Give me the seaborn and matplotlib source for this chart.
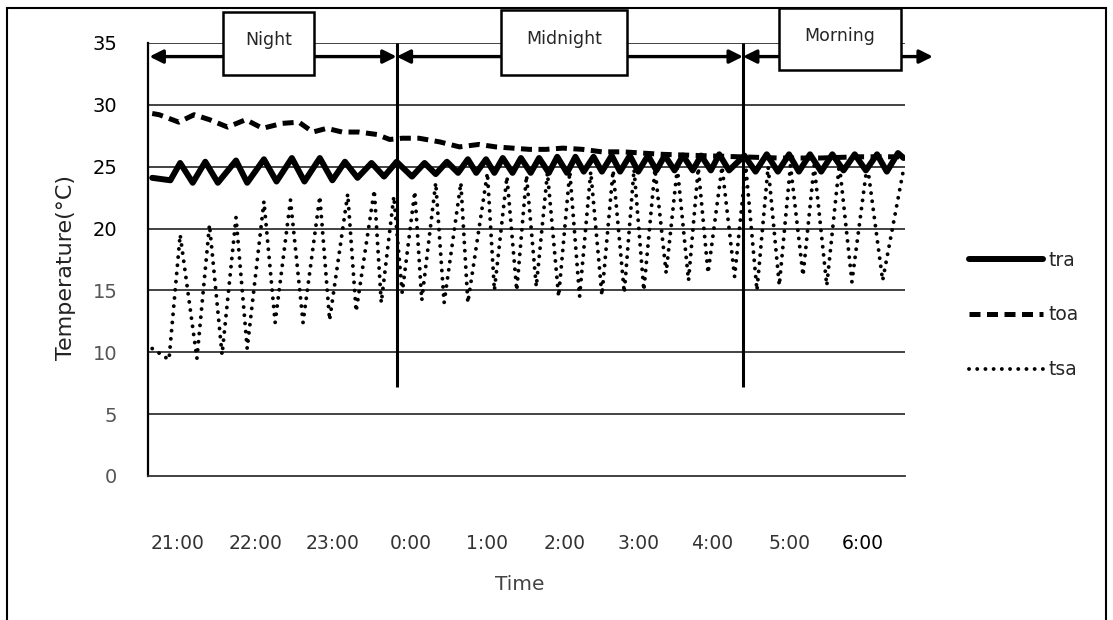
import matplotlib
matplotlib.use("Agg")
import matplotlib.pyplot as plt
from matplotlib.patches import Rectangle
import seaborn as sns

# time is in minutes after 21:00
tra_min = [2, 15, 22, 31, 40, 49, 62, 70, 82, 91, 102, 111, 122, 131, 140, 149, 159, 168, 177, 188,
           197, 205, 213, 221, 228, 234, 241, 247, 253, 260, 266, 273, 279, 286, 292, 299, 305, 311, 318, 324,
           331, 337, 344, 350, 357, 363, 369, 376, 382, 389, 395, 402, 408, 415, 426, 434, 442, 450, 458, 465,
           473, 481, 489, 497, 505, 513, 521, 528, 536, 540]
tra_temp = [24.1, 23.9, 25.3, 23.7, 25.4, 23.7, 25.5, 23.7, 25.6, 23.8, 25.7, 23.8, 25.7, 23.9, 25.4, 24.1, 25.3, 24.2, 25.4, 24.2,
            25.3, 24.4, 25.4, 24.5, 25.6, 24.5, 25.6, 24.5, 25.7, 24.5, 25.7, 24.5, 25.7, 24.5, 25.8, 24.5, 25.8, 24.6, 25.8, 24.6,
            25.9, 24.6, 25.9, 24.6, 25.9, 24.7, 25.9, 24.7, 25.9, 24.7, 25.9, 24.7, 26.0, 24.7, 25.9, 24.6, 26.0, 24.6, 26.0, 24.6,
            26.0, 24.6, 26.0, 24.7, 26.0, 24.7, 26.0, 24.6, 26.1, 25.7]

toa_min = [2, 7, 21, 32, 43, 56, 69, 81, 95, 107, 117, 127, 138, 150, 163, 172, 181, 193, 208, 222,
           236, 248, 260, 272, 284, 296, 310, 324, 339, 353, 367, 394, 422, 451, 480, 508, 540]
toa_temp = [29.3, 29.2, 28.6, 29.2, 28.8, 28.2, 28.8, 28.1, 28.5, 28.6, 27.8, 28.1, 27.8, 27.8, 27.6, 27.2, 27.3, 27.3, 27.0, 26.6,
            26.8, 26.6, 26.5, 26.4, 26.4, 26.5, 26.4, 26.2, 26.2, 26.1, 26.0, 25.9, 25.8, 25.7, 25.7, 25.8, 25.8]

tsa_min = [2, 14, 22, 34, 43, 52, 62, 70, 82, 90, 101, 110, 122, 129, 142, 148, 161, 166, 175, 181,
           190, 195, 205, 211, 223, 228, 242, 247, 256, 263, 270, 277, 285, 293, 301, 308, 316, 324, 332, 340,
           347, 354, 362, 370, 378, 386, 393, 400, 410, 419, 427, 435, 443, 451, 459, 468, 476, 485, 494, 503,
           514, 525, 540]
tsa_temp = [10.3, 9.4, 19.5, 9.5, 20.3, 9.8, 20.9, 10.3, 22.2, 12.4, 22.3, 12.4, 22.6, 12.6, 22.8, 13.3, 23.1, 14.0, 22.6, 14.8,
            23.0, 14.2, 23.7, 14.0, 23.7, 14.0, 24.5, 15.0, 24.2, 15.0, 24.3, 15.3, 24.5, 14.5, 24.6, 14.5, 24.6, 14.6, 24.7, 14.8,
            24.8, 15.0, 24.8, 16.4, 24.9, 15.8, 24.9, 16.4, 25.0, 16.1, 25.0, 15.0, 25.0, 15.4, 25.1, 16.2, 25.1, 15.4, 25.2, 15.7,
            25.2, 15.8, 24.8]

time_labels = ['21:00', '22:00', '23:00', '0:00', '1:00', '2:00', '3:00', '4:00', '5:00', '6:00']
periods = ['Night', 'Midnight', 'Morning']
period_edges = [0, 177, 425, 561]

sns.set_style("white")
plt.rcParams['font.family'] = ['DejaVu Sans']

fig = plt.figure(figsize=(11.13, 6.2), dpi=100)
ax = fig.add_axes([0.133, 0.2323, 0.6801, 0.6984])

sns.lineplot(x=tsa_min, y=tsa_temp, ax=ax, color='black', lw=2.8, estimator=None, sort=False,
             linestyle=(0, (0.01, 2.1)), dash_capstyle='round', label='tsa', zorder=3)
sns.lineplot(x=toa_min, y=toa_temp, ax=ax, color='black', lw=3.6, estimator=None, sort=False,
             linestyle=(0, (2.2, 1.3)), label='toa', zorder=4)
sns.lineplot(x=tra_min, y=tra_temp, ax=ax, color='black', lw=4.3, estimator=None, sort=False,
             label='tra', zorder=5)

ax.set_xlim(-1, 541)
ax.set_ylim(0, 35)
for y in range(5, 36, 5):
    ax.axhline(y, color='#222222', lw=1.2, zorder=1)

# y ticks: the scan is lighter in the lower half
ax.set_yticks(range(0, 36, 5))
ax.tick_params(axis='y', length=0, pad=22, labelsize=14)
for lab, val in zip(ax.get_yticklabels(), range(0, 36, 5)):
    lab.set_color('#555555' if val <= 15 else 'black')

ax.set_xticks([20, 76, 131, 187, 242, 297, 350, 403, 458, 511])
ax.set_xticklabels(time_labels)
ax.tick_params(axis='x', which='major', length=0, pad=42, labelsize=13.5, labelcolor='#333333')
ax.set_xticks(range(60, 541, 60), minor=True)
ax.tick_params(axis='x', which='minor', direction='in', length=9, width=1.3, color='black')
ax.get_xticklabels()[-1].set_color('black')

for s in ['top', 'right']:
    ax.spines[s].set_visible(False)
ax.spines['left'].set_color('black')
ax.spines['left'].set_linewidth(1.6)
ax.spines['bottom'].set_color('#333333')
ax.spines['bottom'].set_linewidth(1.3)

ax.set_xlabel('')
ax.set_ylabel('')
fig.text(0.059, 0.568, 'Temperature(°C)', rotation=90, ha='center', va='center', fontsize=16, color='#222222')
fig.text(0.467, 0.057, 'Time', ha='center', va='center', fontsize=14.5, color='#444444')

# period separators and arrows
ax.vlines(period_edges[1:3], 7.2, 35, color='black', lw=2.2, zorder=6)
for i in range(3):
    ax.annotate('', xy=(period_edges[i], 33.9), xytext=(period_edges[i + 1], 33.9),
                arrowprops=dict(arrowstyle='<|-|>', color='black', lw=2.4, mutation_scale=20,
                                shrinkA=0, shrinkB=0),
                annotation_clip=False, zorder=7)

box_spans = [(53, 118, 32.4, 37.5), (252, 342, 32.4, 37.7), (451, 538, 32.8, 37.8)]
for name, (x0, x1, y0, y1) in zip(periods, box_spans):
    ax.add_patch(Rectangle((x0, y0), x1 - x0, y1 - y0, facecolor='white', edgecolor='black',
                           lw=1.8, clip_on=False, zorder=8))
    ax.text((x0 + x1) / 2, (y0 + y1) / 2 + 0.3, name, ha='center', va='center', fontsize=12.5, zorder=9)

order = ['tra', 'toa', 'tsa']
h, l = ax.get_legend_handles_labels()
hd = dict(zip(l, h))
ax.legend([hd[k] for k in order], order, loc='center left', bbox_to_anchor=(0.871, 0.492),
          bbox_transform=fig.transFigure, frameon=False, fontsize=13.5, handlelength=3.9,
          handletextpad=0.3, labelspacing=1.9, borderpad=0, borderaxespad=0)

# chart frame
fig.patches.append(Rectangle((0.0063, -0.05), 0.9875, 1.037, transform=fig.transFigure,
                             fill=False, edgecolor='black', lw=1.5))

plt.savefig('out.png', dpi=100)
